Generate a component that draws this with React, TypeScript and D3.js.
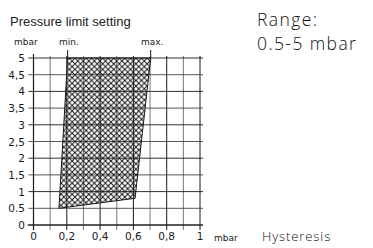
import React, { useRef, useEffect } from "react";
import * as d3 from "d3";

// axes
const xTicks = [0, 0.2, 0.4, 0.6, 0.8, 1];
const xTickLabels = ["0", "0,2", "0,4", "0,6", "0,8", "1"];
const yTicks = [0, 0.5, 1, 1.5, 2, 2.5, 3, 3.5, 4, 4.5, 5];
const yTickLabels = ["0", "0.5", "1", "1,5", "2", "2,5", "3", "3,5", "4", "4,5", "5"];
const xGrid = [0, 0.1, 0.2, 0.3, 0.4, 0.5, 0.6, 0.7, 0.8, 0.9, 1];

// hatched region (hysteresis, pressure)
const regionX = [0.153, 0.205, 0.704, 0.61];
const regionY = [0.5, 5, 5, 0.8];

const App = () => {
  const svgRef = useRef<SVGSVGElement | null>(null);

  useEffect(() => {
    const svg = d3.select(svgRef.current);
    svg.selectAll("*").remove();

    const x = d3.scaleLinear().domain([0, 1]).range([33.5, 200]);
    const y = d3.scaleLinear().domain([0, 5]).range([225, 58]);
    const ink = "#1a1a1a";

    // crosshatch pattern, ~3 diamonds per 0.1 column
    const p = 5.55;
    const defs = svg.append("defs");
    const pat = defs.append("pattern")
      .attr("id", "xhatch")
      .attr("patternUnits", "userSpaceOnUse")
      .attr("width", p)
      .attr("height", p);
    pat.append("path")
      .attr("d", `M0,0 L${p},${p} M-1,${p - 1} L1,${p + 1} M${p - 1},-1 L${p + 1},1`)
      .attr("stroke", ink).attr("stroke-width", 1);
    pat.append("path")
      .attr("d", `M${p},0 L0,${p} M-1,1 L1,-1 M${p - 1},${p + 1} L${p + 1},${p - 1}`)
      .attr("stroke", ink).attr("stroke-width", 1);

    const g = svg.append("g");

    // vertical grid
    g.selectAll(".vg").data(xGrid).enter().append("line")
      .attr("x1", (d) => x(d)).attr("x2", (d) => x(d))
      .attr("y1", y(5) - 2).attr("y2", y(0) + 5)
      .attr("stroke", (d, i) => (i % 2 === 0 ? ink : "#555"))
      .attr("stroke-width", (d, i) => (i % 2 === 0 ? 1 : 0.8));

    // horizontal grid
    g.selectAll(".hg").data(yTicks).enter().append("line")
      .attr("x1", x(0) - 5).attr("x2", x(1) + 3)
      .attr("y1", (d) => y(d)).attr("y2", (d) => y(d))
      .attr("stroke", (d, i) => (i % 2 === 0 ? ink : "#444"))
      .attr("stroke-width", 0.9);

    // hatched region
    const pts = regionX.map((v, i) => [x(v), y(regionY[i])] as [number, number]);
    g.append("path")
      .attr("d", d3.line()(pts) + "Z")
      .attr("fill", "url(#xhatch)")
      .attr("stroke", ink)
      .attr("stroke-width", 1);

    // min / max markers
    g.append("line").attr("x1", x(0.205)).attr("x2", x(0.205))
      .attr("y1", y(5) - 8).attr("y2", y(5)).attr("stroke", ink);
    g.append("line").attr("x1", x(0.704)).attr("x2", x(0.704))
      .attr("y1", y(5) - 8).attr("y2", y(5)).attr("stroke", ink);

    // axes
    g.append("line").attr("x1", x(0)).attr("x2", x(0))
      .attr("y1", y(5) - 4).attr("y2", y(0) + 5)
      .attr("stroke", ink).attr("stroke-width", 1.2);
    g.append("line").attr("x1", x(0) - 6).attr("x2", x(1) + 3)
      .attr("y1", y(0)).attr("y2", y(0))
      .attr("stroke", ink).attr("stroke-width", 1.2);

    const tickFont = "'DejaVu Sans', sans-serif";
    g.selectAll(".yl").data(yTicks).enter().append("text")
      .attr("x", 25).attr("y", (d) => y(d) + 4)
      .attr("text-anchor", "end")
      .attr("font-family", tickFont).attr("font-size", 10.5)
      .attr("fill", ink)
      .text((d, i) => yTickLabels[i]);

    g.selectAll(".xl").data(xTicks).enter().append("text")
      .attr("x", (d) => x(d)).attr("y", 240)
      .attr("text-anchor", "middle")
      .attr("font-family", tickFont).attr("font-size", 10.5)
      .attr("fill", ink)
      .text((d, i) => xTickLabels[i]);

    const small = (t: string, px: number, py: number) =>
      g.append("text").attr("x", px).attr("y", py)
        .attr("font-family", tickFont).attr("font-size", 9)
        .attr("fill", ink).text(t);
    small("mbar", 14, 45);
    small("min.", 59, 45);
    small("max.", 141, 45);
    small("mbar", 214, 241);

    const sans = "'Liberation Sans', Arial, sans-serif";
    const wide = "'Open Sans', sans-serif";
    g.append("text").attr("x", 10).attr("y", 26)
      .attr("font-family", sans).attr("font-size", 13).attr("fill", "#222")
      .text("Pressure limit setting");
    g.append("text").attr("x", 257).attr("y", 26)
      .attr("font-family", wide).attr("font-size", 17.5).attr("font-weight", 300)
      .attr("letter-spacing", 1.4).attr("fill", "#111")
      .text("Range:");
    g.append("text").attr("x", 257).attr("y", 50)
      .attr("font-family", wide).attr("font-size", 17.5).attr("font-weight", 300)
      .attr("letter-spacing", 1.4).attr("fill", "#111")
      .text("0.5-5 mbar");
    g.append("text").attr("x", 262).attr("y", 241)
      .attr("font-family", wide).attr("font-size", 13).attr("font-weight", 300)
      .attr("letter-spacing", 0.9).attr("fill", "#111")
      .text("Hysteresis");

    return () => {};
  }, []);

  return (
    <svg ref={svgRef} width={373} height={248}
      style={{ position: "absolute", left: 0, top: 0, background: "#fff" }} />
  );
};

export default App;
